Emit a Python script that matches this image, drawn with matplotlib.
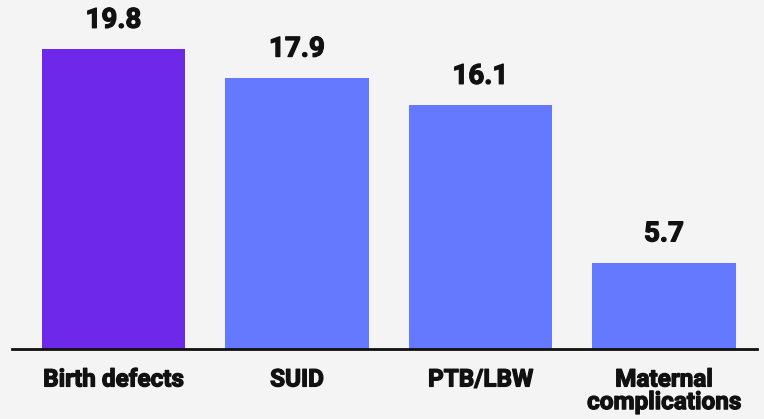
import matplotlib.pyplot as plt
import matplotlib.patheffects as pe

categories = ['Birth defects', 'SUID', 'PTB/LBW', 'Maternal\ncomplications']
values = [19.8, 17.9, 16.1, 5.7]
colors = ['#6E28E9', '#6479FF', '#6479FF', '#6479FF']

plt.rcParams['font.family'] = ['Roboto', 'DejaVu Sans']

# a thin stroke makes the bold text look heavier, like the original
thick = [pe.withStroke(linewidth=0.9, foreground='#111111')]

fig = plt.figure(figsize=(7.64, 4.19), dpi=100, facecolor='#F4F4F4')
ax = fig.add_axes([12 / 764, 70 / 419, 745 / 764, 349 / 419])
ax.set_facecolor('#F4F4F4')

x = range(len(categories))
bars = ax.bar(x, values, width=0.78, color=colors)

for xi, v in zip(x, values):
    ax.annotate(f'{v}', (xi, v), xytext=(0, 11), textcoords='offset points',
                ha='center', va='bottom', fontsize=20, fontweight='bold', color='#111111',
                path_effects=thick)

ax.set_xlim(-0.553, 3.507)
ax.set_ylim(0, 23.04)
ax.set_xticks(list(x))
ax.set_xticklabels(categories, fontsize=17.5, fontweight='bold', color='#111111', linespacing=0.98)
for lbl in ax.get_xticklabels():
    lbl.set_path_effects(thick)
ax.tick_params(axis='x', length=0, pad=14)
ax.set_yticks([])
for s in ['top', 'right', 'left']:
    ax.spines[s].set_visible(False)
ax.spines['bottom'].set_linewidth(2)
ax.spines['bottom'].set_color('#111111')

fig.savefig('out.png', dpi=100, facecolor=fig.get_facecolor())
